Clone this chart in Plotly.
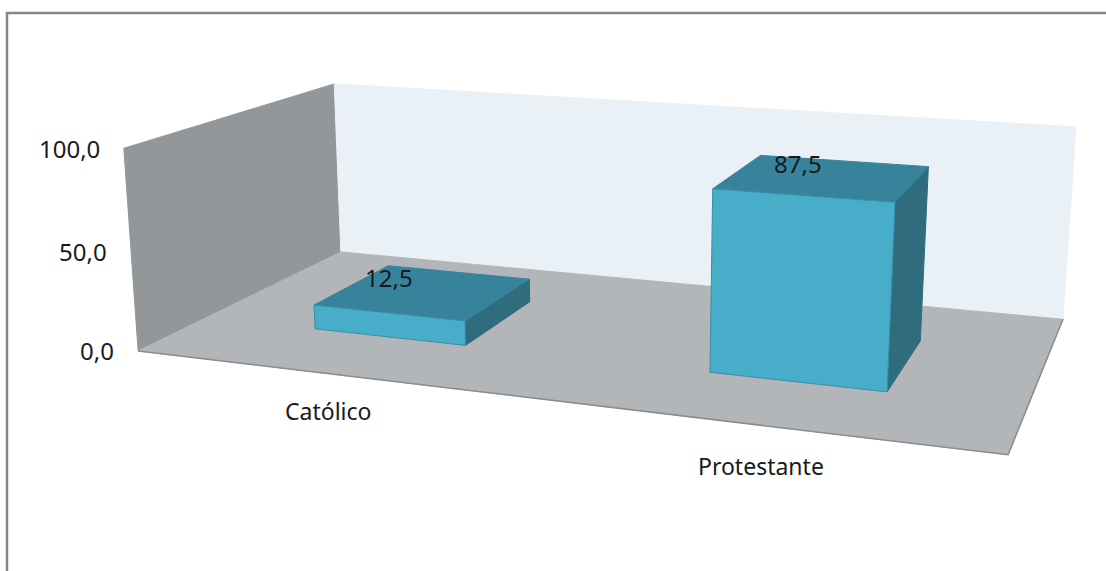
import numpy as np
import plotly.graph_objects as go

categories = ["Católico", "Protestante"]
values = [12.5, 87.5]
value_labels = ["12,5", "87,5"]
axis_ticks = [0, 50, 100]
axis_tick_labels = ["0,0", "50,0", "100,0"]

W, H = 1106, 571
# Reference view of the chart box: (category, depth, value) -> page position
box = [((0,0,0),(138,351)),((2,0,0),(1008,455)),((2,1,0),(1063,319)),((0,1,0),(341,252)),
       ((0,0,100),(124,148)),((0,1,100),(334,84)),((2,1,100),(1076,127))]
A, b = [], []
for (x,y,z),(u,v) in box:
    A.append([x,y,z,1,0,0,0,0,-u*x,-u*y,-u*z]); b.append(u)
    A.append([0,0,0,0,x,y,z,1,-v*x,-v*y,-v*z]); b.append(v)
P = np.append(np.linalg.lstsq(np.array(A,float),np.array(b,float),rcond=None)[0],1).reshape(3,4)

def proj(x,y,z):
    q = P @ np.array([x,y,z,1.0])
    return q[0]/q[2], q[1]/q[2]

def poly(fig, pts, fill, line=None, lw=1):
    xy = [proj(*p) for p in pts]
    fig.add_trace(go.Scatter(x=[a for a,_ in xy]+[xy[0][0]], y=[a for _,a in xy]+[xy[0][1]], mode="lines",
        fill="toself", fillcolor=fill, line=dict(color=line or fill, width=lw), hoverinfo="skip", showlegend=False))

fig = go.Figure()
zmax = axis_ticks[-1]
poly(fig, [(0,0,0),(0,1,0),(0,1,zmax),(0,0,zmax)], "#94979a")
poly(fig, [(0,1,0),(2,1,0),(2,1,zmax),(0,1,zmax)], "#e9f1f7")
poly(fig, [(0,0,0),(2,0,0),(2,1,0),(0,1,0)], "#b2b6b9")
edge = [proj(0,0,0), proj(2,0,0), proj(2,1,0)]
fig.add_trace(go.Scatter(x=[e[0] for e in edge], y=[e[1] for e in edge], mode="lines",
    line=dict(color="#8c8c8c", width=1.5), hoverinfo="skip", showlegend=False))

half, d0, d1 = 0.2, 0.3, 0.7
label_shift = [-35, -26]
for i, v in enumerate(values):
    c = i + 0.502
    x0, x1 = c-half, c+half
    poly(fig, [(x1,d0,0),(x1,d1,0),(x1,d1,v),(x1,d0,v)], "#2f6d7e", "#2f6d7e")
    poly(fig, [(x0,d0,v),(x1,d0,v),(x1,d1,v),(x0,d1,v)], "#37839c", "#37839c")
    poly(fig, [(x0,d0,0),(x1,d0,0),(x1,d0,v),(x0,d0,v)], "#47adc8", "#3a8ea8")
    px, py = proj(c, (d0+d1)/2, v)
    fig.add_annotation(x=px, y=py, text=value_labels[i], xshift=label_shift[i], yshift=14,
                       showarrow=False, font=dict(size=24))

for t, lab in zip(axis_ticks, axis_tick_labels):
    px, py = proj(0,0,t)
    fig.add_annotation(x=px, y=py, text=lab, xanchor="right", xshift=-22, showarrow=False, font=dict(size=24))
for i, lab in enumerate(categories):
    px, py = proj(i+0.5,0,0)
    fig.add_annotation(x=px, y=py, text=lab, yshift=-37-4*i, showarrow=False, font=dict(size=23))

frame = [(7,571),(7,13),(1106,13)]
fig.add_trace(go.Scatter(x=[a for a,_ in frame], y=[a for _,a in frame], mode="lines",
    line=dict(color="#868686", width=2.5), hoverinfo="skip", showlegend=False))

fig.update_layout(width=W, height=H, margin=dict(l=0,r=0,t=0,b=0), plot_bgcolor="white", paper_bgcolor="white",
    font=dict(family="Noto Sans", size=22, color="#1a1a1a"),
    xaxis=dict(range=[0,W], visible=False, fixedrange=True), yaxis=dict(range=[H,0], visible=False, fixedrange=True))
fig.write_html("out.html", config=dict(displayModeBar=False),
               post_script="document.body.style.margin='0';document.body.style.overflow='hidden';")
